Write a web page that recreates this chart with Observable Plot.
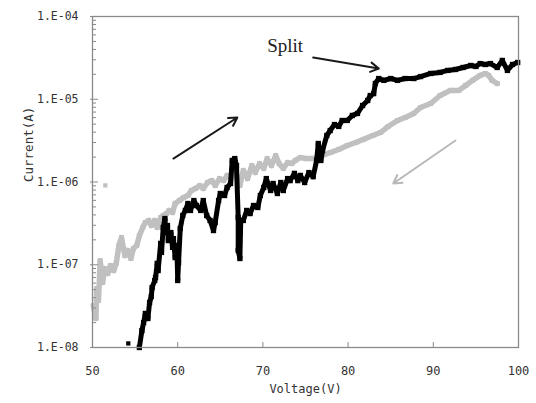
<!DOCTYPE html>
<html>
<head>
<meta charset="utf-8">
<script src="https://cdn.jsdelivr.net/npm/d3@7"></script>
<script src="https://cdn.jsdelivr.net/npm/@observablehq/plot@0.6"></script>
<style>
  html, body { margin: 0; padding: 0; background: #fff; }
  #chart { width: 536px; height: 403px; }
</style>
</head>
<body>
<div id="chart"></div>
<script>
// Up sweep (black), voltage (V) and current (A)
const blackV = [55.5,55.8,56.0,56.2,56.5,56.7,56.9,57.0,57.3,57.4,57.6,57.7,58.0,58.1,58.3,58.5,58.6,58.8,58.9,59.2,59.4,59.5,59.7,59.9,60.0,60.1,60.3,60.6,60.9,61.2,61.5,61.9,62.2,62.7,63.0,63.4,63.8,64.2,64.4,64.8,65.0,65.5,65.8,66.2,66.4,66.7,66.9,67.1,67.1,67.3,67.4,67.7,68.1,68.5,68.9,69.4,69.7,70.1,70.4,70.9,71.2,71.7,72.1,72.4,72.9,73.2,73.7,74.1,74.4,74.9,75.4,75.9,76.3,76.5,76.8,77.0,77.5,77.9,78.4,78.9,79.3,79.9,80.5,81.1,81.7,82.3,82.6,83.0,83.2,83.6,84.2,85.0,85.8,86.7,87.7,88.5,89.7,90.8,91.7,92.6,93.5,94.4,95.0,95.5,96.1,96.7,97.5,98.1,98.7,99.3,99.9];
const blackI = [1.0e-8,1.6e-8,2.0e-8,2.58e-8,2.24e-8,3.5e-8,4.13e-8,5.31e-8,6.45e-8,7.0e-8,1.04e-7,8.5e-8,1.81e-7,1.41e-7,2.82e-7,3.62e-7,2.45e-7,2.98e-7,1.96e-7,2.45e-7,1.62e-7,2.07e-7,1.22e-7,1.71e-7,6.45e-8,1.06e-7,2.74e-7,3.94e-7,4.53e-7,5.5e-7,4.53e-7,5.97e-7,5.2e-7,4.53e-7,5.97e-7,3.94e-7,3.43e-7,2.59e-7,3.24e-7,5.97e-7,7.26e-7,6.87e-7,8.58e-7,9.6e-7,1.82e-6,1.92e-6,1.58e-6,3.72e-7,1.49e-7,1.19e-7,3.43e-7,3.43e-7,4.53e-7,4.16e-7,5.2e-7,4.92e-7,6.87e-7,8.58e-7,1.10e-6,7.89e-7,9.6e-7,7.26e-7,9.86e-7,7.89e-7,1.1e-6,1.04e-6,1.27e-6,1.04e-6,1.2e-6,9.86e-7,1.3e-6,1.16e-6,1.82e-6,2.92e-6,1.82e-6,2.4e-6,3.65e-6,4.19e-6,4.95e-6,4.69e-6,5.54e-6,5.54e-6,6.37e-6,6.73e-6,8.4e-6,9.66e-6,1.11e-5,1.17e-5,1.55e-5,1.78e-5,1.69e-5,1.78e-5,1.69e-5,1.78e-5,1.78e-5,1.88e-5,2.05e-5,2.11e-5,2.23e-5,2.29e-5,2.42e-5,2.56e-5,2.49e-5,2.7e-5,2.63e-5,2.7e-5,2.42e-5,2.94e-5,2.23e-5,2.63e-5,2.78e-5];
const blackDotV = [54.2];
const blackDotI = [1.12e-8];

// Down sweep (gray)
const grayV = [50.1,50.4,50.5,50.7,50.9,51.2,51.4,51.8,52.1,52.5,52.8,53.1,53.4,53.8,54.1,54.5,54.8,55.2,55.5,55.9,56.2,56.6,56.9,57.3,57.6,58.0,58.3,58.7,59.0,59.4,59.7,60.2,60.7,61.2,61.6,62.1,62.6,63.0,63.5,64.0,64.4,64.9,65.4,65.8,66.3,66.8,67.3,67.7,68.2,68.7,69.1,69.6,70.1,70.5,71.0,71.5,71.9,72.4,72.9,73.4,73.8,74.4,75.0,75.6,76.4,77.0,77.9,78.9,79.9,80.9,81.8,82.9,83.8,84.7,85.8,86.7,87.7,88.5,89.7,90.8,92.0,93.0,93.8,94.6,95.5,96.1,96.5,96.9,97.5];
const grayI = [3.21e-8,2.24e-8,5.16e-8,3.7e-8,1.12e-7,6.1e-8,9.0e-8,7.83e-8,9.8e-8,8.5e-8,1.06e-7,1.71e-7,2.13e-7,1.29e-7,1.49e-7,1.19e-7,1.57e-7,1.71e-7,2.25e-7,2.82e-7,3.24e-7,3.43e-7,2.98e-7,3.43e-7,2.82e-7,3.72e-7,3.94e-7,4.16e-7,4.53e-7,4.28e-7,5.5e-7,5.97e-7,6.5e-7,6.87e-7,7.89e-7,8.34e-7,9.08e-7,8.34e-7,9.86e-7,1.04e-6,9.08e-7,1.1e-6,1.04e-6,1.2e-6,1.1e-6,1.3e-6,9.08e-7,1.38e-6,1.1e-6,1.58e-6,1.3e-6,1.67e-6,1.46e-6,1.92e-6,1.58e-6,2.09e-6,1.67e-6,1.46e-6,1.72e-6,1.67e-6,1.82e-6,1.98e-6,1.92e-6,1.92e-6,1.92e-6,2.09e-6,2.27e-6,2.47e-6,2.76e-6,3.0e-6,3.27e-6,3.65e-6,3.96e-6,4.69e-6,5.54e-6,6.02e-6,6.73e-6,7.94e-6,8.89e-6,1.11e-5,1.28e-5,1.28e-5,1.47e-5,1.69e-5,1.94e-5,2.05e-5,1.94e-5,1.69e-5,1.55e-5];
const grayDotV = [51.5];
const grayDotI = [9.1e-7];

// Axis ticks and labels
const xTicks = [50, 60, 70, 80, 90, 100];
const xTickLabels = ["50", "60", "70", "80", "90", "100"];
const yTicks = [1e-8, 1e-7, 1e-6, 1e-5, 1e-4];
const yTickLabels = ["1.E-08", "1.E-07", "1.E-06", "1.E-05", "1.E-04"];
const yMinorTicks = yTicks.slice(0, -1).flatMap(d => [2,3,4,5,6,7,8,9].map(k => d * k));

// Annotations
const annText = ["Split"];
const annTextV = [70.5];
const annTextI = [4.4e-5];
const arrowV1 = [59.5, 92.6, 75.9];
const arrowI1 = [1.92e-6, 3.17e-6, 3.19e-5];
const arrowV2 = [67.0, 85.3, 83.6];
const arrowI2 = [6.02e-6, 9.6e-7, 2.35e-5];
const arrowColor = ["#1a1a1a", "#b8b8b8", "#1a1a1a"];

const black = blackV.map((v, i) => ({v, c: blackI[i]}));
const gray = grayV.map((v, i) => ({v, c: grayI[i]}));
const blackDots = blackDotV.map((v, i) => ({v, c: blackDotI[i]}));
const grayDots = grayDotV.map((v, i) => ({v, c: grayDotI[i]}));
const arrows = arrowV1.map((v, i) => ({x1: v, y1: arrowI1[i], x2: arrowV2[i], y2: arrowI2[i], col: arrowColor[i]}));
const notes = annText.map((t, i) => ({t, v: annTextV[i], c: annTextI[i]}));

const xLabelMap = new Map(xTicks.map((d, i) => [d, xTickLabels[i]]));
const yLabelMap = new Map(yTicks.map((d, i) => [d, yTickLabels[i]]));

const mono = "'DejaVu Sans Mono', monospace";
const W = 536, H = 403, ML = 92, MR = 18, MT = 16, MB = 56;
const frameW = W - ML - MR, frameH = H - MT - MB;

const chart = Plot.plot({
  width: W,
  height: H,
  marginLeft: ML,
  marginRight: MR,
  marginTop: MT,
  marginBottom: MB,
  style: {fontFamily: mono, background: "#fff", color: "#333"},
  x: {domain: [50, 100]},
  y: {type: "log", domain: [1e-8, 1e-4]},
  marks: [
    Plot.line(gray, {x: "v", y: "c", stroke: "#c0c0c0", strokeWidth: 5.5, strokeLinejoin: "round", strokeLinecap: "round"}),
    Plot.dot(gray, {x: "v", y: "c", symbol: "square", r: 2.8, fill: "#c0c0c0"}),
    Plot.dot(grayDots, {x: "v", y: "c", symbol: "square", r: 2.4, fill: "#c0c0c0"}),
    Plot.line(black, {x: "v", y: "c", stroke: "#000", strokeWidth: 5, strokeLinejoin: "round", strokeLinecap: "round"}),
    Plot.dot(black, {x: "v", y: "c", symbol: "square", r: 3, fill: "#000"}),
    Plot.dot(blackDots, {x: "v", y: "c", symbol: "square", r: 2.4, fill: "#000"}),
    Plot.arrow(arrows, {x1: "x1", y1: "y1", x2: "x2", y2: "y2", stroke: "col", strokeWidth: 2, headLength: 7}),
    Plot.text(notes, {x: "v", y: "c", text: "t", textAnchor: "start", fontFamily: "'Liberation Serif', serif", fontSize: 19, fill: "#222"}),
    Plot.frame({stroke: "#8a8a8a", strokeWidth: 1.3}),
    // y minor ticks (inside, on the left edge)
    Plot.ruleY(yMinorTicks, {stroke: "#8a8a8a", insetRight: frameW - 4}),
    // y major ticks
    Plot.ruleY(yTicks, {stroke: "#8a8a8a", insetRight: frameW - 6, insetLeft: -2}),
    // y tick labels
    Plot.axisY(yTicks, {anchor: "left", tickSize: 0, tickPadding: 14, tickFormat: d => yLabelMap.get(d), label: null, fontSize: 11.5, fill: "#333"}),
    // x ticks (inside, on the bottom edge)
    Plot.ruleX(xTicks, {stroke: "#8a8a8a", insetTop: frameH - 5}),
    // x tick labels
    Plot.axisX(xTicks, {anchor: "bottom", tickSize: 0, tickPadding: 19, tickFormat: d => xLabelMap.get(d), label: null, fontSize: 12, fill: "#333"}),
    Plot.text(["Voltage(V)"], {frameAnchor: "bottom", dy: 45, text: d => d, fontSize: 12, fill: "#333"}),
    Plot.text(["Current(A)"], {frameAnchor: "left", dx: -64, rotate: -90, text: d => d, fontSize: 12.5, fill: "#333"})
  ]
});
document.getElementById("chart").appendChild(chart);
</script>
</body>
</html>
